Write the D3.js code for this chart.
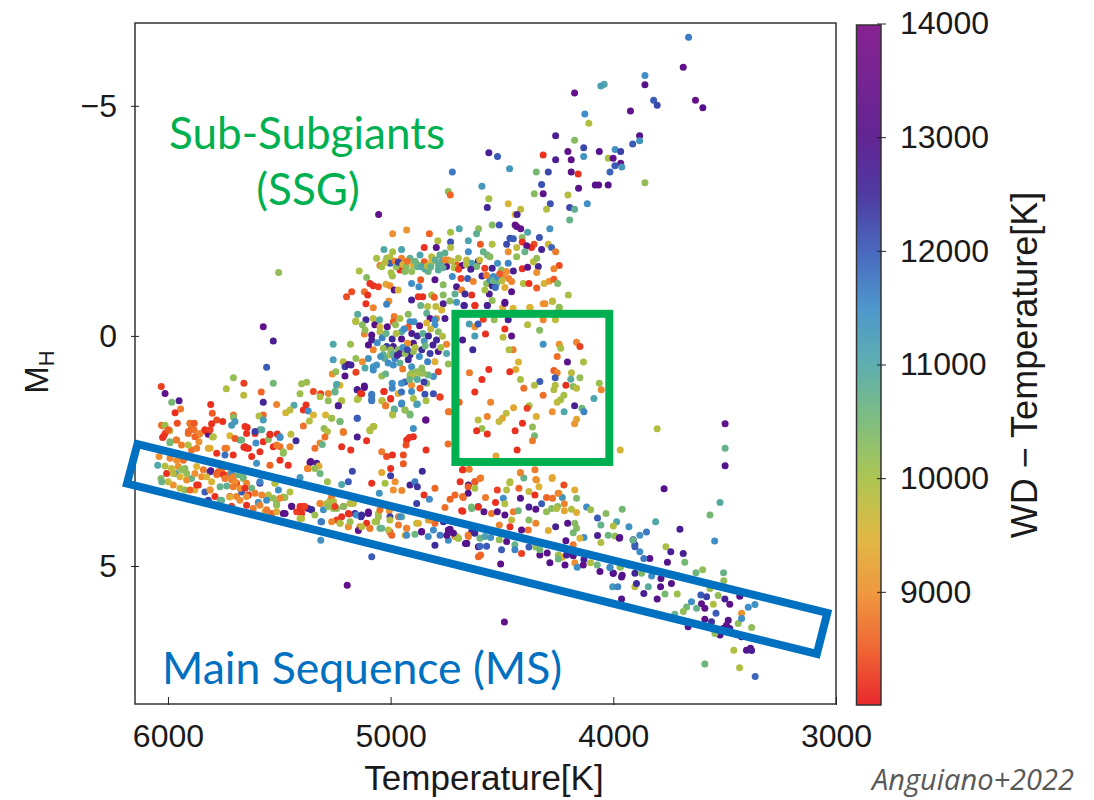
<!DOCTYPE html>
<html>
  <head>
    <meta charset="utf-8">
    <title>Sub-subgiants and the main sequence</title>
    <script src="https://d3js.org/d3.v7.min.js"></script>
    <style>
      body { margin: 0; background: #fff; }
      svg { display: block; }
      text { font-family: "Liberation Sans", sans-serif; fill: #1a1a1a; }
      .note { font-family: Lato, sans-serif; }
      .domain, .tick line { stroke: #222; }
    </style>
  </head>
  <body>
    <svg id="chart" width="1094" height="800"></svg>
    <script>
      // every star is [temperature K, M_H, WD - temperature K]
      const giantBranch = [
        [3662,-6.49,11700],[3686,-5.84,13300],[3858,-5.66,11500],[3858,-5.46,13000],[4041,-5.47,11000],[4056,-5.43,11200],
        [4174,-5.28,13400],[3819,-5.12,12000],[3803,-5.01,12200],[3631,-5.12,13400],[3598,-4.96,13000],[3923,-4.89,13300],
        [4128,-4.82,11500],[4110,-4.62,9900],[4259,-4.35,12700],[3882,-4.35,13000],[4174,-4.25,10300],[3882,-4.24,11400],
        [3913,-4.17,12000],[4559,-3.98,12700],[4520,-3.90,12000],[4133,-4.09,12200],[4204,-4.01,13200],[4063,-4.01,13000],
        [3992,-4.05,11400],[3967,-4.01,12300],[4315,-3.93,8200],[4133,-3.90,11400],[4259,-3.83,12800],[4189,-3.83,13200],
        [4023,-3.86,10000],[4001,-3.86,13300],[3967,-3.75,13300],[3993,-3.70,12000],[3962,-3.67,11300],[4723,-3.56,11700],
        [4466,-3.63,11300],[4346,-3.56,10500],[4292,-3.56,12200],[4189,-3.56,13200],[4158,-3.52,8200],[4015,-3.56,11900],
        [3858,-3.33,10200],[4081,-3.28,13000],[4066,-3.28,13000],[4023,-3.28,13000],[4322,-3.29,12100],[4156,-3.21,13000],
        [4590,-3.25,11300],[4741,-3.14,10200],[4732,-3.06,8600],[4355,-3.09,10300],[4315,-3.09,13200],[4204,-3.06,9900],
        [4559,-2.98,10000],[4472,-2.87,9500],[4283,-2.87,12100],[4117,-2.87,11500],[4566,-2.79,12600],[4416,-2.75,9800],
        [4300,-2.75,9900],[4196,-2.79,12200],[4174,-2.75,10800],[4441,-2.64,9500],[4432,-2.64,12700],[4196,-2.52,10700],
        [5054,-2.64,13300],[5503,-1.38,10200],[5572,-0.2,13300],[5527,0.11,12800]
      ];
      const redClump = [
        [4991,-2.22,9000],[4928,-2.30,9100],[4826,-2.22,8600],[4731,-2.25,10000],[4692,-2.33,11000],[4605,-2.33,10200],
        [4544,-2.41,10300],[4512,-2.41,12100],[4614,-2.22,10800],[4788,-2.07,9900],[4731,-2.04,12100],[4651,-2.07,11100],
        [4597,-1.99,8500],[4544,-1.99,9900],[4731,-1.92,9900],[4795,-1.92,13000],[4849,-1.92,8200],[4951,-1.88,11100],
        [5030,-1.88,11000],[4991,-1.83,10000],[4651,-1.83,11500],[4584,-1.83,10700],[4566,-1.76,10600],[5063,-1.69,10000],
        [5018,-1.69,10100],[5003,-1.71,9900],[4951,-1.69,8900],[4913,-1.69,10800],[4868,-1.76,11100],[4816,-1.72,9800],
        [4779,-1.76,10800],[4756,-1.80,10800],[4741,-1.65,9000],[4696,-1.69,9900],[4659,-1.65,9800],[4606,-1.62,13000],
        [4554,-1.72,10300],[5048,-1.53,8800],[5003,-1.58,12000],[4950,-1.54,8900],[4958,-1.43,8200],[4936,-1.40,10300],
        [4898,-1.54,9400],[4906,-1.40,10200],[4876,-1.54,10300],[4849,-1.61,8500],[4816,-1.61,9500],[4831,-1.40,10600],
        [4786,-1.54,10800],[4786,-1.43,10900],[4749,-1.51,13000],[4704,-1.54,8500],[4678,-1.53,13200],[4636,-1.58,11200],
        [4614,-1.51,10500],[4577,-1.47,8300],[4544,-1.47,12600],[4520,-1.58,11400],[4472,-1.58,11600],[4502,-1.43,10300],
        [4449,-1.41,12700],[4409,-1.46,8200],[4385,-1.49,13200],[4337,-1.51,12600],[4359,-1.61,9800],[4344,-1.69,10200],
        [4434,-2.38,13300],[4416,-2.33,13300],[4441,-2.41,13300],[4385,-2.25,11100],[4285,-2.33,11400],[4332,-2.14,12100],
        [4464,-2.12,12100],[4449,-2.11,12000],[4479,-1.99,12200],[4409,-2.14,10300],[4409,-2.04,8200],[4356,-1.99,8400],
        [4367,-1.92,8200],[4389,-1.96,13200],[4434,-1.92,9800],[4292,-1.99,9600],[4322,-1.88,12700],[4277,-1.92,11900],
        [4259,-1.83,8800],[4472,-1.83,9000],[4397,-1.83,10700],[4434,-1.72,10200],[4243,-1.53,8400],[4267,-1.46,8900],
        [4344,-1.38,9000],[5141,-1.41,9900],[5108,-1.27,10300],[4992,-1.30,10100],[4998,-1.37,10000],[5093,-1.14,8200],
        [5078,-1.09,8200],[5055,-1.07,8300],[5021,-1.12,9300],[5003,-1.09,9000],[4984,-1.0,13000],[4966,-1.0,9500],
        [5175,-0.96,8400],[5198,-0.85,8400],[5118,-0.96,8700],[5103,-0.89,8200],[5111,-0.70,8200],[5078,-0.61,8900],
        [5008,-0.76,9000],[5018,-0.69,11600],[4906,-1.14,11500],[4873,-1.07,11500],[4865,-1.22,8500],[4801,-1.22,13000],
        [4723,-1.29,11500],[4684,-1.25,8300],[4654,-1.25,12000],[4629,-1.18,8900],[4764,-1.11,10300],[4704,-1.07,12800],
        [4681,-1.0,8900],[4569,-1.14,10300],[4539,-1.29,11500],[4554,-1.22,11500],[4517,-1.25,10300],[4494,-1.29,9000],
        [4479,-1.40,9000],[4457,-1.18,8900],[4524,-1.14,10800],[4544,-1.09,12800],[4487,-1.05,9400],[4457,-0.96,13000],
        [4557,-0.91,12800],[4577,-1.0,10000],[4404,-1.14,9900],[4379,-1.14,8200],[4344,-1.04,8500],[4311,-1.14,9600],
        [4288,-1.19,9100],[4267,-1.23,8500],[4250,-1.14,10400],[4202,-0.89,10000],[4876,-0.85,8200],[4856,-0.85,8200],
        [4816,-0.89,10000],[4804,-0.84,8500],[4764,-0.89,10300],[4636,-0.89,8200],[4666,-0.91,12500],[4711,-0.91,10800],
        [4906,-0.78,12700],[4865,-0.66,10700],[4764,-0.70,12800],[4734,-0.76,10300],[4704,-0.73,11300],[4669,-0.66,12800],
        [4621,-0.66,8200],[4566,-0.66,12700],[4544,-0.77,10200],[4487,-0.73,13200],[4497,-0.61,9400],[4374,-0.61,9600],
        [4307,-0.70,9000],[4274,-0.76,9700],[4243,-0.61,10200],[4834,-0.64,9900],[4797,-0.64,9800],[4771,-0.56,9500],
        [5040,-1.50,10000],[5025,-1.60,9800],[4980,-1.62,8800],[4975,-1.50,10200],[4965,-1.60,12300],[4945,-1.55,9500],
        [4930,-1.50,10300],[4925,-1.62,8700],[4890,-1.62,10600],[4880,-1.50,10700],[4860,-1.50,11100],[4845,-1.45,10900],
        [4835,-1.52,9800],[4820,-1.50,10700],[4800,-1.65,10800],[4770,-1.62,10900],[4765,-1.48,10800],[4755,-1.65,8900],
        [4725,-1.62,9800],[4715,-1.48,9900],[4695,-1.45,8300],[4660,-1.55,9900],[4640,-1.45,12700],[4600,-1.65,9700],
        [4590,-1.30,12600],[4570,-1.32,8800],[4540,-1.20,10700],[4520,-1.28,11500],[4500,-1.20,9800],[4470,-1.25,8900],
        [4530,-1.05,11800],[4510,-1.35,8500]
      ];
      const clumpBase = [
        [5148,-0.47,10900],[5078,-0.38,9800],[4984,-0.42,8800],[4958,-0.38,10000],[5111,-0.35,12500],[5157,-0.31,9900],
        [4921,-0.47,10300],[4838,-0.49,10800],[4823,-0.38,13200],[4756,-0.38,12800],[4794,-0.38,9000],[4913,-0.31,11500],
        [4988,-0.31,8500],[5258,0.18,11000],[5180,0.18,10100],[5258,0.52,11200],[5213,0.56,9800],[5262,0.83,9000],
        [5246,0.78,10200],[5205,0.67,12300],[5205,0.87,13100],[5190,0.62,13000],[5178,0.63,12600],[5156,0.79,8300],
        [5156,0.49,10200],[5127,0.56,9000],[5100,0.49,11400],[5115,0.70,11000],[5078,0.67,11400],[5078,0.74,11500],
        [5063,0.63,11400],[5040,0.87,10100],[5023,0.83,10700],[5156,-0.33,9900],[5127,-0.24,10300],[5118,-0.04,8900],
        [5115,-0.13,10200],[5085,-0.02,13000],[5085,0.09,12800],[5071,-0.24,13100],[5048,-0.20,9600],[5048,-0.09,9800],
        [5015,-0.20,13000],[5038,0.04,11600],[4978,-0.24,10200],[4921,-0.19,8500],[4895,-0.31,11500],[4951,-0.09,10900],
        [4993,0.07,12500],[4951,0.07,13000],[4880,0.0,12500],[4898,0.16,12800],[4924,0.16,9000],[4849,0.11,11300],
        [4838,-0.28,9500],[4801,-0.35,11500],[4801,-0.24,11500],[4786,-0.09,10300],[4767,0.01,9900],[4749,0.18,8900],
        [4794,0.09,12600],[5078,0.30,8900],[5018,0.23,12300],[4988,0.23,12700],[5033,0.27,10100],[5003,0.41,9800],
        [4966,0.30,10300],[4958,0.38,12600],[5026,0.49,10800],[5033,0.41,10800],[4981,0.49,11600],[5011,0.59,11500],
        [4958,0.59,10800],[4913,0.41,12600],[4921,0.52,12500],[4898,0.34,10200],[4871,0.45,11500],[4906,0.67,11400],
        [4946,0.72,8800],[4988,0.63,11500],[4834,0.56,11600],[4823,0.38,12300],[4786,0.34,12800],[4801,0.56,9400],
        [4749,0.38,11000],[4741,0.61,10200],[4786,0.78,8300],[4808,0.88,11400],[4831,0.85,10700],[4883,0.78,10200],
        [4913,0.85,10100],[4868,0.81,10000],[4906,0.81,10200],[4898,0.88,9900],[4853,0.81,10200],[4936,1.0,12000],
        [4951,1.03,11500],[4906,1.07,9000],[4868,1.14,8400],[4906,1.21,11500],[4838,1.03,10300],[4846,1.27,12100],
        [4808,1.26,12100],[4779,1.33,8200],[4993,1.03,11500],[4993,1.14,11600],[5030,1.21,8200],[4966,1.25,9400],
        [5000,1.36,8200],[4951,1.22,11800],[4898,1.36,10000],[5118,1.09,12800],[5150,1.17,12600],[5130,1.26,8200],
        [5145,1.36,10000],[5085,1.27,11700],[5085,1.39,11800],[5243,1.07,11000],[5228,1.07,9500],[5250,1.22,10700],
        [5220,1.41,10000],[5235,1.52,12800],[5040,1.41,9800],[5023,1.52,9000],[4951,1.48,11800],[4880,1.48,11300],
        [4841,1.41,10000],[4984,1.59,11000],[4936,1.61,10300],[4913,1.70,10500],[4991,1.70,9900],[5150,1.79,11800],
        [4843,1.83,13300],[5265,1.79,9900],[5228,1.86,10500],[5075,1.97,9900],[5093,2.06,10000],[5213,2.08,8900],
        [4898,2.01,11400],[4737,1.65,8800],
        [5100,0.20,13000],[5060,0.15,11500],[5045,0.45,11300],[5000,0.30,10200],[4990,0.40,10800],[4970,0.42,12700],
        [4945,0.25,11400],[4935,0.38,10200],[4925,0.30,12200],[4890,0.25,9900],[4860,0.30,12500],[4845,0.22,10600],
        [4810,0.20,12700],[4775,0.25,10000],[5050,-0.35,10900],[5020,-0.05,10700],[4975,-0.05,9900],[4940,-0.15,11500],
        [4905,-0.05,12800],[4870,-0.22,13000],[4855,-0.05,10800],[4830,0.0,12500],[4820,-0.15,9700],[4915,0.95,10600],
        [4880,0.95,10900],[4850,1.0,12300],[4860,0.70,10300]
      ];
      const lowerScatter = [
        [6030,1.10,8300],[6013,1.25,13300],[5983,1.44,10500],[5950,1.41,12800],[5943,1.59,8800],[5968,1.67,8200],
        [5958,1.90,8400],[6021,1.96,8800],[5991,2.06,9900],[6013,2.12,8300],[6024,2.21,8200],[5738,1.15,9900],
        [5706,0.91,10200],[5659,1.03,8300],[5660,1.29,9800],[5527,1.03,10500],[5557,0.68,12000],[5581,1.22,8600],
        [5572,1.44,12600],[5808,1.49,8200],[5801,1.68,8500],[5706,1.72,8700],[5572,1.72,8600],[5591,1.74,9900],
        [5572,1.83,11200],[5781,1.83,8400],[5754,1.86,8200],[5804,1.91,8200],[5706,1.77,10300],[5699,1.86,11300],
        [5714,1.94,11300],[5644,1.99,8200],[5834,2.06,8200],[5819,2.14,13200],[5800,2.20,10000],[5894,1.99,8700],
        [5901,1.90,10100],[5883,2.04,8700],[5909,2.12,8700],[5864,2.15,8900],[5722,2.17,9500],[5677,2.26,10800],
        [5699,2.23,8500],[5647,2.12,8200],[5609,2.12,8200],[5587,2.04,10800],[5542,2.14,8200],[5509,2.13,8200],
        [5497,2.21,11500],[5448,2.14,9800],[5572,2.30,8200],[5549,2.25,10300],[5605,2.33,11500],[5482,2.55,10300],
        [5425,2.28,12500],[5527,2.41,8200],[5497,2.41,8700],[5452,2.41,8900],[5659,2.42,8200],[5647,2.44,8200],
        [5736,2.44,8900],[5819,2.44,9400],[5894,2.48,8700],[5861,2.30,9000],[5964,2.26,8900],[5991,2.32,10500],
        [5939,2.37,8800],[5512,1.49,8900],[5471,1.67,9600],[5434,1.51,11000],[5452,1.61,9800],[5380,1.50,8200],
        [5392,1.61,8200],[5370,1.63,11500],[5347,1.72,9500],[5365,1.85,9900],[5392,1.96,8700],[5407,1.26,10100],
        [5400,1.04,10100],[5377,1.01,10100],[5347,1.21,8400],[5314,1.26,8300],[5280,1.25,8900],[5250,1.21,10700],
        [5242,1.05,11000],[5317,1.32,9900],[5280,1.41,10200],[5220,1.41,9900],[5235,1.52,12800],[5292,1.72,9500],
        [5265,1.79,10100],[5227,1.86,10500],[5150,1.79,12000],[5299,2.01,10200],[5284,2.08,9900],[5295,2.20,8700],
        [5317,2.33,8900],[5307,2.36,10700],[5340,2.44,8700],[5212,2.10,8800],[5220,2.41,8200],[5179,2.48,8200],
        [5150,2.20,12800],[5108,2.28,8200],[5093,2.04,9900],[5078,1.97,9900],[5150,1.17,12800],[5118,1.12,13000],
        [5135,1.25,8200],[5085,1.30,11700],[5085,1.41,11700],[5150,1.38,9900],[5030,1.21,8200],[5037,1.41,9800],
        [5000,1.37,8200],[5022,1.52,8800],[4983,1.60,10800],[4991,1.72,9900],[4935,1.61,10200],[4950,1.46,11500],
        [4913,1.72,10500],[4883,1.49,11200],[4841,1.83,13300],[4898,2.19,8200],[4916,2.21,8200],[4928,2.26,8200],
        [4931,2.37,8400],[4841,2.48,8200],[4778,1.33,8300],[4741,1.65,8800],[5040,2.52,8800],[5018,2.62,8400],
        [4992,2.59,8200],[4943,2.59,8400],[4943,2.78,8500],[5000,2.88,8200],[5040,2.97,9300],[5000,3.04,12300],
        [4858,2.94,12500],[5085,3.20,8200],[5025,3.20,10000],[4980,3.17,9000],[4988,3.35,9000],[4950,3.36,8900],
        [4913,3.24,12700],[4891,3.17,11700],[4880,3.28,12400],[4801,3.31,8600],[4850,3.46,8200],[4826,3.55,11500],
        [4883,3.64,12300],[4688,3.17,8200],[4676,2.91,8200],[4651,3.24,12800],[4621,3.17,8300],[4711,3.46,8600],
        [4733,3.55,8600],[4756,3.73,8700],[4674,3.51,8500],[4636,3.75,10600],[4676,3.81,8200],[4606,3.71,12000],
        [5362,2.75,13000],[5332,2.77,12700],[5322,2.83,9400],[5370,2.89,9000],[5317,2.99,10600],[5172,2.94,12200],
        [5407,3.08,11300],[5284,3.17,10100],[5220,3.23,11000],[5190,3.17,12000],[5051,3.42,11400],[5006,3.80,9000],
        [6029,1.94,8700],[6013,1.94,10100],[5998,2.04,8500],[6021,2.19,8200],[5991,2.30,10500],[5961,2.26,8800],
        [5901,1.90,8700],[5882,1.90,8500],[5908,2.08,8600],[5879,2.19,8600],[5856,2.12,8900],[5909,2.37,9900],
        [5871,2.44,8800],[5834,2.04,8200],[5811,2.04,8300],[5796,2.19,9900],[5811,2.44,9400],[5781,2.55,8200],
        [5744,2.44,8800],[5707,2.59,8200],[5744,2.59,11800],[5654,2.41,8200],[5639,2.44,8200],[5624,2.62,8200],
        [5587,2.52,8200],[5602,2.77,11400],[5669,2.26,10600],[5609,2.08,12300],[5579,2.04,10900],[5654,1.97,8200],
        [5542,2.15,8200],[5497,2.19,11500],[5512,2.37,8800],[5482,2.52,10200],[5497,2.70,8200],[5460,2.81,8200],
        [5542,2.81,8600],[5374,2.88,8900],[5359,2.73,13000],[5340,2.88,10200]
      ];
      const mainSequence = [
        [6040,2.62,9000],[6046,2.81,11000],[6013,2.83,9900],[6031,3.10,10300],[6028,3.17,10700],[6006,2.99,8200],
        [5961,2.70,9000],[5954,2.84,9000],[5984,2.88,9700],[5966,2.99,11400],[5924,2.88,10300],[5916,2.99,10200],
        [5946,3.06,9500],[5976,3.24,9000],[5999,3.17,9700],[5946,3.31,9800],[5924,3.35,10200],[5894,3.10,10700],
        [5864,3.24,8200],[5879,2.99,9000],[5871,2.84,9500],[5841,2.91,8800],[5808,2.93,13200],[5781,3.02,8900],
        [5759,2.91,8500],[5729,3.02,8900],[5804,3.17,9500],[5766,3.28,10700],[5736,3.26,10800],[5714,3.13,8800],
        [5692,3.20,8300],[5662,3.10,10200],[5834,3.39,12000],[5879,3.35,9500],[5901,3.35,8600],[5789,3.49,8200],
        [5819,3.57,12300],[5759,3.57,10700],[5722,3.49,8200],[5692,3.49,8900],[5669,3.39,12000],[5639,3.46,8200],
        [5624,3.31,10600],[5587,3.20,12300],[5594,3.62,11400],[5579,3.46,8900],[5549,3.46,9900],[5512,3.68,10200],
        [5475,3.51,10200],[5504,3.35,11500],[5520,3.20,9800],[5452,3.39,9900],[5482,3.86,13000],[5445,3.70,13200],
        [5407,3.71,8200],[5370,3.75,13000],[5400,3.86,8200],[5647,3.68,8200],[5617,3.75,8800],[5564,3.82,9500],
        [5534,3.86,8600],[5714,3.70,8300],[5976,2.99,9800],[5939,2.91,10200],[5916,3.13,9000],[5871,3.24,8200],
        [5811,2.95,12700],[5781,2.99,8600],[5759,2.95,8700],[5714,2.99,11500],[5662,3.07,10600],[5699,3.17,9000],
        [5647,3.20,8900],[5587,3.17,11600],[5519,3.20,9900],[5811,3.35,8900],[5766,3.57,10700],[5722,3.50,9400],
        [5677,3.57,9000],[5594,3.62,11400],[5549,3.50,9800],[5512,3.64,10200],[5482,3.50,10100],[5474,3.86,13200],
        [5557,3.78,8800],[5512,3.82,9400],[5444,3.71,13000],[5395,3.71,8200],[5422,3.82,8300],[5355,3.78,12500],
        [5313,4.04,11700],[5314,4.44,11400],[5400,3.97,9800],[5317,3.64,9000],[5287,3.64,9900],[5272,3.57,9900],
        [5257,3.75,10100],[5302,3.78,11400],[5183,3.64,9900],[5212,3.71,8200],[5190,3.86,8200],[5220,3.93,8200],
        [5242,4.0,8300],[5265,4.04,8900],[5190,4.15,9500],[5227,4.07,10100],[5160,3.86,12500],[5138,4.15,8900],
        [5145,4.23,13200],[5100,3.86,13000],[5055,3.86,9900],[5063,4.04,10300],[5040,4.18,10700],[5093,4.18,8900],
        [5003,3.93,12300],[4965,3.93,8800],[4950,3.93,10700],[5003,4.26,8500],[4928,4.18,8700],[4935,4.33,9500],
        [4883,4.07,9800],[4861,4.26,13000],[4831,4.36,11500],[4801,4.55,12500],[4831,4.0,9700],[4801,4.07,8600],
        [4741,4.22,13000],[4711,4.36,9000],[4741,4.44,11500],[4659,4.51,13200],[4696,4.40,9900],[4651,4.36,8900],
        [4606,4.80,8600],[5085,4.80,12000],[5195,5.42,13300],[4891,4.31,10600],[4861,4.25,13000],[4778,4.33,11700],
        [4748,4.33,13000],[4733,4.20,13100],[4703,4.36,9900],[4658,4.51,12600],[4636,4.25,12500],[4606,4.58,13000],
        [4928,4.33,11500],[4958,3.93,11400],[5048,3.78,8700],[5100,3.83,13000],[5133,3.93,12500],[5187,3.87,8200],
        [5991,2.66,8900],[5931,2.70,8700],[5849,3.06,9000],[5826,3.06,9500],[5811,3.35,9000],[5774,2.95,8600],
        [5751,3.02,8200],[5744,3.10,8800],[5707,3.06,8900],[5684,3.02,10600],[5707,3.28,8800],[5677,3.31,9000],
        [5654,3.31,8200],[5647,3.49,9000],[5609,3.42,8800],[5557,3.57,11500],[5527,3.53,10200],[5497,3.53,8900],
        [5587,3.68,8900],[5400,3.78,8200],[5385,3.71,8300],[5407,3.97,9900],[5355,3.78,12500],[5340,3.89,10100],
        [5310,4.04,11700],[5317,3.64,8900],[5280,3.71,10200],[5265,3.49,8800],[5257,3.60,9900],[5242,3.75,10200],
        [5250,3.71,8300],[5212,3.71,10300],[5167,3.64,9800],[5227,4.07,9900],[5190,4.15,9000],[5182,4.04,10100],
        [5153,3.89,11500],[5130,3.89,12500],[5108,4.07,8200],[5130,4.15,9800],[5093,4.18,8800],[5070,4.04,10000],
        [5055,3.93,10100],[5048,4.18,10700],[5003,4.0,9900],[5010,4.22,9800],[4995,4.33,8600],[4965,4.11,8800],
        [4928,4.18,8900],[4875,4.07,9500],[4823,4.0,9000],[4763,4.04,12500],[4808,4.22,11500],[4718,4.29,13000],
        [4696,4.40,10000]
      ];
      const coolDwarfs = [
        [4417,2.98,9000],[4402,3.09,10700],[4348,3.12,9000],[4274,3.08,9300],[4596,3.09,8800],[4622,3.17,8500],
        [4652,3.28,8500],[4622,3.31,10000],[4652,3.42,13000],[4677,3.49,8700],[4464,3.17,9800],[4479,3.35,9900],
        [4521,3.35,8300],[4424,3.31,8600],[4334,3.28,9500],[4222,3.24,8400],[4173,3.35,9400],[4379,3.38,9700],
        [4352,3.46,8200],[4574,3.51,8800],[4494,3.53,11500],[4417,3.53,13000],[4529,3.62,8200],[4487,3.65,9900],
        [4300,3.51,8600],[4273,3.53,8700],[4244,3.42,9900],[4229,3.51,11300],[4165,3.53,10400],[4322,3.65,12000],
        [4220,3.65,8900],[4607,3.72,8200],[4637,3.72,10500],[4681,3.80,8200],[4581,3.82,13000],[4547,3.86,8800],
        [4521,3.82,13000],[4487,3.89,13000],[4449,3.82,8800],[4427,3.80,10600],[4379,3.72,12700],[4348,3.77,13000],
        [4250,3.71,10300],[4277,3.75,10300],[4300,3.82,10200],[4220,3.80,9300],[4188,3.77,9900],[4165,3.84,9400],
        [4120,3.72,11500],[4102,3.78,10100],[4033,3.86,10300],[3960,3.77,10500],[4071,3.96,12000],[4056,4.11,10700],
        [3985,4.04,11100],[4000,4.13,9900],[3930,4.15,11400],[4205,4.07,13000],[4173,4.07,10300],[4165,4.18,10300],
        [4180,4.28,10500],[4259,4.15,12700],[4292,4.23,9400],[4379,4.0,10300],[4348,4.07,8900],[4382,4.22,8700],
        [4412,4.22,13200],[4457,4.0,9800],[4464,4.15,8200],[4512,4.11,8900],[4071,4.34,12700],[4132,4.38,11500],
        [4150,4.40,9500],[4023,4.33,10600],[3993,4.35,10200],[3973,4.40,13000],[4056,4.49,9900],[4213,4.45,13000],
        [4180,4.54,8800],[3911,4.43,12500],[3903,4.54,12200],[4652,4.33,8800],[4622,4.29,12500],[4599,4.40,10600],
        [4577,4.36,11100],[4551,4.38,11400],[4512,4.43,10200],[4479,4.47,13000],[4442,4.54,10700],[4599,4.57,11900],
        [4569,4.57,12000],[4664,4.51,13000],[4502,4.65,12000],[4412,4.73,8300],[4442,4.65,11600],[4379,4.59,12000],
        [4330,4.76,13000],[4348,4.59,10200],[4297,4.72,13000],[4330,4.65,10500],[4596,4.76,8600],[4506,4.96,13200],
        [4285,4.93,13000],[4247,4.76,10100],[4229,4.81,9500],[4247,4.85,10600],[4210,4.76,12700],[4180,4.78,13000],
        [4217,4.98,13000],[4173,4.93,9000],[4162,5.03,11500],[4132,4.86,12700],[4135,4.98,13300],[4102,4.93,9900],
        [4072,4.98,10600],[4060,5.12,13000],[4015,5.03,11500],[4000,5.16,13100],[3960,5.20,13000],[3970,5.02,10000],
        [3903,5.16,12600],[3933,4.98,10500],[3498,1.91,13300],[3498,2.44,10700],[3498,2.82,13000],[3803,2.02,9900],
        [3969,2.48,9600],[3772,3.32,13000],[3521,3.62,10900],[3566,3.89,10500],[3545,4.46,11500],[3701,4.20,12700],
        [3810,4.04,11000],[3764,4.58,10000],[3742,4.69,12700],[3686,4.73,12700],[3679,4.92,10500],[3757,4.92,13000],
        [3599,5.08,10200],[3629,5.15,10600],[3505,5.15,10700],[3504,5.32,10200],[3566,5.49,10100],[3432,5.66,13000],
        [3529,5.64,10200],[3607,5.63,12000],[3581,5.67,12300],[3499,5.72,12700],[3477,5.83,13200],[3364,5.84,11400],
        [3394,5.90,11500],[3424,6.03,9000],[3439,6.25,10200],[3424,6.14,11500],[3379,6.34,10200],[3484,6.18,13000],
        [3492,6.29,13300],[3477,6.36,12700],[3507,6.36,13000],[3521,6.50,13000],[3544,6.47,10200],[3424,6.54,13000],
        [3551,5.83,9900],[3539,6.03,12000],[3604,5.82,13200],[3589,5.92,13200],[3626,5.92,10700],[3649,5.78,11500],
        [3671,5.89,10500],[3686,5.99,10200],[3713,5.61,10100],[3724,6.05,10700],[3589,6.16,13200],[3559,6.21,12400],
        [3664,6.32,13000],[3459,6.83,9900],[3402,6.83,13000],[3384,6.79,13100],[3379,6.84,12700],[3589,7.13,10600],
        [3433,7.21,9900],[3363,7.40,11900],[4489,6.22,13300],[3963,5.72,13000],[3803,5.72,13000],[3863,5.60,12700],
        [3768,5.61,10500],[3903,5.45,9800],[4003,5.45,11300],[3980,5.45,11600],[3963,5.24,13000],[4001,5.16,13000],
        [4015,5.04,11500],[3968,5.02,10200],[3873,5.16,10400],[3828,5.22,11500],[3786,5.27,13000],[3739,5.38,13000],
        [3788,5.45,13000],[3843,5.45,10900],[3896,5.38,12500],[3836,4.84,13000],[3863,4.84,11700],[3881,4.69,11500],
        [3881,4.33,11400],[3851,4.26,11700],[3911,4.44,10700],[3903,4.58,12000],[3971,4.38,13000]
      ];
      const subSubgiants = [
        [4647,-0.26,11200],[4622,-0.20,9000],[4607,-0.26,12000],[4622,0.0,11200],[4574,-0.04,8200],[4487,-0.15,8200],
        [4495,0.03,9800],[4457,0.0,13300],[4385,-0.24,9900],[4331,-0.12,10300],[4315,0.18,11400],[4243,0.18,9000],
        [4236,0.27,10000],[4165,0.14,8900],[4150,0.23,8300],[4677,0.09,12800],[4631,0.30,12500],[4450,0.30,8800],
        [4468,0.30,9900],[4252,0.45,8700],[4206,0.57,13200],[4134,0.57,10000],[4426,0.57,9500],[4438,0.73,9400],
        [4559,0.73,8200],[4646,0.80,8800],[4465,0.78,8200],[4267,0.75,8500],[4252,0.80,8900],[4188,0.80,9800],
        [4150,0.91,10200],[4261,0.91,12000],[4191,0.94,10900],[4590,0.95,8200],[4417,0.95,10000],[4330,0.99,12000],
        [4354,1.07,9900],[4213,1.07,8200],[4261,1.07,9900],[4180,1.10,10300],[4267,1.17,9900],[4165,1.14,9800],
        [4063,1.03,10100],[4054,1.17,8900],[4402,1.14,8700],[4622,1.22,8200],[4315,1.29,8700],[4222,1.29,10000],
        [4237,1.39,10000],[4087,1.36,11100],[4252,1.44,9800],[4551,1.44,8900],[4692,1.44,8600],[4378,1.52,10000],
        [4387,1.57,8300],[4448,1.56,9300],[4174,1.52,12700],[4141,1.57,10600],[4132,1.65,11600],[4274,1.65,9000],
        [4221,1.65,11000],[4481,1.68,9800],[4566,1.75,8900],[4346,1.75,9400],[4607,1.83,9800],[4498,1.79,9300],
        [4513,1.86,9700],[4165,1.81,9300],[4174,1.91,9100],[4408,1.90,8200],[4590,2.01,10100],[4614,2.06,8200],
        [4441,2.06,8200],[4566,2.13,8200],[4363,1.98,10200],[4354,2.17,10500],[4363,2.28,8800],[4432,2.48,8200],
        [4742,2.35,8700],[4527,2.61,9300],[4671,-0.66,12600],[4622,-0.66,8200],[4566,-0.66,12700],[4487,-0.71,13000],
        [4450,-0.60,9500],[4375,-0.62,9500],[4315,-0.70,9000],[4273,-0.75,9800],[4243,-0.62,10200],[4472,-0.35,12700],
        [4535,-0.35,10200],[4584,-0.36,8300],[4315,-0.35,8900],[4260,-0.35,9800],[4677,2.91,8200],[4647,2.90,8800],
        [4417,2.97,8900],[4352,2.91,8800],[4599,3.10,8800],[4275,3.10,9300],[4345,3.13,9000],[4465,3.19,9900],
        [4248,3.42,8900],[4255,3.75,9900]
      ];
      const xTicks = [6000, 5000, 4000, 3000];
      const yTicks = [-5, 0, 5];
      const wdTicks = [9000, 10000, 11000, 12000, 13000, 14000];
      const wdStops = [8000, 8500, 9000, 9500, 10000, 10500, 11000, 11500, 12000, 12500, 13000, 14000];
      const wdColours = ["#e8161c", "#ee5a24", "#ee9030", "#dcb435", "#a6c044", "#74b874", "#50a8a8", "#3f8ec8", "#3a5cb8", "#3f2a9a", "#55128a", "#7d1088"];
      // the two boxes drawn over the plot, in data units
      const ssgBoxT = [4709, 4018], ssgBoxM = [-0.48, 2.74];
      const msBox = [[6137, 2.35], [3039, 6.02], [3086, 6.91], [6184, 3.21]];

      const stars = [].concat(giantBranch, redClump, clumpBase, lowerScatter, mainSequence, coolDwarfs, subSubgiants);

      const svg = d3.select("#chart");
      const x = d3.scaleLinear().domain([6148, 3000]).range([135, 836]);
      const y = d3.scaleLinear().domain([-6.8, 8]).range([23, 704]);
      const wd = d3.scaleLinear().domain([8000, 14000]).range([705.5, 23.5]);
      const colour = d3.scaleLinear().domain(wdStops).range(wdColours);

      // points
      svg.append("g")
        .selectAll("circle")
          .data(stars)
        .enter().append("circle")
          .attr("cx", function(d) { return x(d[0]); })
          .attr("cy", function(d) { return y(d[1]); })
          .attr("r", 3.5)
          .attr("fill", function(d) { return colour(d[2]); });

      // frame
      svg.append("rect")
        .attr("x", 135).attr("y", 23).attr("width", 701).attr("height", 681)
        .attr("fill", "none").attr("stroke", "#333").attr("stroke-width", 1.5);

      // axes
      const xAxis = svg.append("g")
        .attr("transform", "translate(0, 704)")
        .call(d3.axisBottom(x).tickValues(xTicks).tickFormat(d3.format("d")).tickSizeOuter(0).tickPadding(14));
      xAxis.select(".domain").remove();
      xAxis.selectAll("text").style("font-size", "32px").attr("fill", "#1a1a1a");
      xAxis.selectAll("line").attr("y1", -7).attr("y2", 1);

      const yAxis = svg.append("g")
        .attr("transform", "translate(135, 0)")
        .call(d3.axisLeft(y).tickValues(yTicks).tickFormat(function(d) { return d < 0 ? "\u2212" + (-d) : d; }).tickSizeOuter(0).tickPadding(12));
      yAxis.select(".domain").remove();
      yAxis.selectAll("text").style("font-size", "32px").attr("fill", "#1a1a1a");
      yAxis.selectAll("line").attr("x1", -4).attr("x2", 4);

      svg.append("text")
        .attr("x", 484).attr("y", 790).attr("text-anchor", "middle")
        .style("font-size", "35px").text("Temperature[K]");

      const mh = svg.append("text")
        .attr("transform", "translate(48, 372) rotate(-90)")
        .attr("text-anchor", "middle")
        .style("font-size", "33px");
      mh.append("tspan").text("M");
      mh.append("tspan").attr("dy", 6).style("font-size", "22px").text("H");

      // colour bar
      const gradient = svg.append("defs").append("linearGradient")
        .attr("id", "wdGradient").attr("x1", "0%").attr("x2", "0%").attr("y1", "100%").attr("y2", "0%");
      gradient.selectAll("stop")
          .data(wdStops)
        .enter().append("stop")
          .attr("offset", function(d) { return (d - 8000) / 60 + "%"; })
          .attr("stop-color", function(d) { return colour(d); });
      svg.append("rect")
        .attr("x", 856.5).attr("y", 25).attr("width", 24.5).attr("height", 680)
        .attr("fill", "url(#wdGradient)").attr("fill-opacity", 0.92)
        .attr("stroke", "#333").attr("stroke-width", 1.5);
      const wdAxis = svg.append("g")
        .attr("transform", "translate(881, 0)")
        .call(d3.axisRight(wd).tickValues(wdTicks).tickFormat(d3.format("d")).tickSizeOuter(0).tickPadding(13));
      wdAxis.select(".domain").remove();
      wdAxis.selectAll("text").style("font-size", "32px").attr("fill", "#1a1a1a");
      wdAxis.selectAll("line").attr("x1", -4).attr("x2", 5);

      svg.append("text")
        .attr("transform", "translate(1037, 365) rotate(-90)")
        .attr("text-anchor", "middle")
        .style("font-size", "36px").text("WD \u2212 Temperature[K]");

      // annotation boxes
      svg.append("rect")
        .attr("x", x(ssgBoxT[0])).attr("y", y(ssgBoxM[0]))
        .attr("width", x(ssgBoxT[1]) - x(ssgBoxT[0])).attr("height", y(ssgBoxM[1]) - y(ssgBoxM[0]))
        .attr("fill", "none").attr("stroke", "#00b050").attr("stroke-width", 8);
      svg.append("path")
        .attr("d", d3.line().x(function(d) { return x(d[0]); }).y(function(d) { return y(d[1]); }).curve(d3.curveLinearClosed)(msBox))
        .attr("fill", "none").attr("stroke", "#0070c0").attr("stroke-width", 8);

      // annotation text
      svg.append("text").attr("class", "note").attr("x", 307).attr("y", 149).attr("text-anchor", "middle")
        .style("fill", "#00b050").style("font-size", "44px").text("Sub-Subgiants");
      svg.append("text").attr("class", "note").attr("x", 308).attr("y", 205).attr("text-anchor", "middle")
        .style("fill", "#00b050").style("font-size", "44px").text("(SSG)");
      svg.append("text").attr("class", "note").attr("x", 162).attr("y", 684)
        .style("fill", "#0070c0").style("font-size", "44.5px").text("Main Sequence (MS)");
      svg.append("text").attr("x", 1074).attr("y", 790).attr("text-anchor", "end")
        .style("font-family", "'Open Sans', sans-serif").style("font-style", "italic")
        .style("fill", "#595959").style("font-size", "29px").text("Anguiano+2022");
    </script>
  </body>
</html>
